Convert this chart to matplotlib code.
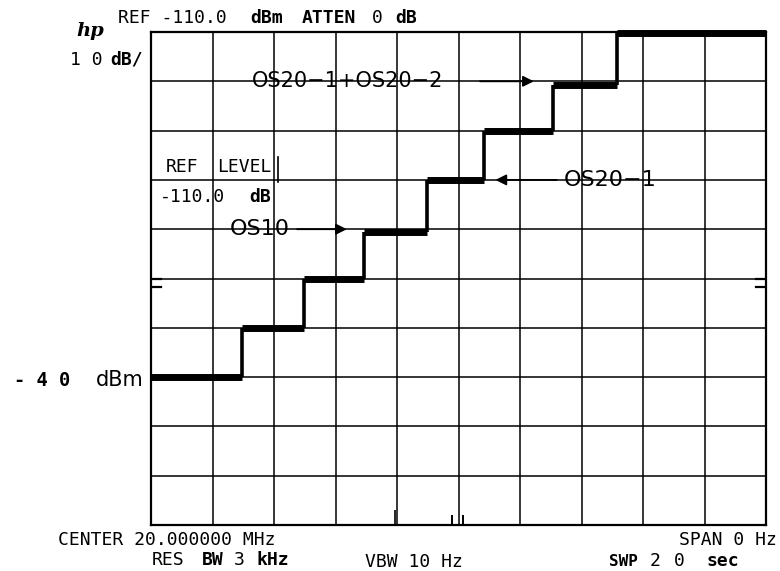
import numpy as np
import matplotlib
matplotlib.use("Agg")
import matplotlib.pyplot as plt
from matplotlib.patches import Rectangle

# sweep time (s) where each level starts, and the level (dBm) of each step
step_start = [0, 2.97, 4.98, 6.93, 8.99, 10.83, 13.07, 15.15]
step_level = [-40, -30, -20, -10.6, 0, 10, 19.2, 29.8]
sweep_end = 20

# screen layout of the analyzer plot (pixels of the 780x571 picture)
W, H = 780, 571
x0, x1, y0, y1 = 151, 766, 32, 525

plt.rcParams["font.family"] = "DejaVu Sans Mono"


def fx(px):
    return px / W


def fy(py):
    return 1 - py / H


fig = plt.figure(figsize=(7.8, 5.71), dpi=100)
ax = fig.add_axes([fx(x0), fy(y1), (x1 - x0) / W, (y1 - y0) / H])
ax.set_xlim(0, sweep_end)
ax.set_ylim(-70, 30)
ax.set_xticks(np.arange(0, 21, 2))
ax.set_yticks(np.arange(-70, 31, 10))
ax.tick_params(length=0, labelbottom=False, labelleft=False)
ax.grid(True, color="black", lw=1.1, zorder=0)
for s in ax.spines.values():
    s.set_linewidth(1.6)

# white boxes where the labels hide the graticule
for (xa, xb, ya, yb) in [(2.89, 12.5, 16.8, 23.7),   # OS20-1+OS20-2
                         (11.1, 16.94, -3.27, 4.85),  # OS20-1
                         (2.2, 6.45, -13.2, -6.9),    # OS10
                         (2.11, 4.26, 0.4, 5.45),     # REF LEVEL
                         (2.11, 4.26, -6.9, -0.6)]:
    ax.add_patch(Rectangle((xa, ya), xb - xa, yb - ya, facecolor="white",
                           edgecolor="none", zorder=1))
ax.plot([4.13, 4.13], [-0.4, 4.7], color="black", lw=1.2, zorder=2)

# trace
ends = step_start[1:] + [sweep_end]
ax.hlines(step_level, step_start, ends, color="black", lw=5, zorder=3,
          clip_on=False)
ax.vlines(step_start[1:], step_level[:-1], step_level[1:], color="black",
          lw=2.6, zorder=3)

# labels with arrows (the plotter draws a long dash)
lab = dict(fontsize=16, ha="center", va="center", zorder=4,
           family="DejaVu Sans")
arr = dict(arrowstyle="-|>", color="black", lw=1.3, mutation_scale=16,
           shrinkA=0, shrinkB=0)
ax.text(3.55, -10, "OS10", **lab)
ax.annotate("", xy=(6.37, -10), xytext=(4.75, -10), zorder=4, arrowprops=arr)
ax.text(6.4, 20, "OS20\u22121+OS20\u22122", **dict(lab, fontsize=15))
ax.annotate("", xy=(12.45, 20), xytext=(10.7, 20), zorder=4, arrowprops=arr)
ax.text(14.93, 0, "OS20\u22121", **lab)
ax.annotate("", xy=(11.2, 0), xytext=(13.2, 0), zorder=4, arrowprops=arr)

# little marks on the graticule edges
for xa, xb in [(0, 0.33), (19.67, 20)]:
    ax.plot([xa, xb], [-21.8, -21.8], color="black", lw=1.6, zorder=2)
    ax.plot([xa, xb], [-20, -20], color="black", lw=1.6, zorder=2)
ax.vlines([7.93], -70, -67, color="black", lw=1.2, zorder=2)
ax.vlines([9.79, 10.15], -70, -68, color="black", lw=1.4, zorder=2)

# screen annotations
fs = 13
fig.text(fx(76), fy(31), "hp", fontsize=14, style="italic", weight="bold",
         family="DejaVu Serif", va="center")
top = [(118, "REF -110.0", "normal"), (250, "dBm", "bold"),
       (302, "ATTEN", "bold"), (372, "0", "normal"), (395, "dB", "bold")]
for px, t, w in top:
    fig.text(fx(px), fy(18), t, fontsize=fs, weight=w, va="center")
fig.text(fx(70), fy(60), "1 0", fontsize=fs, va="center")
fig.text(fx(110), fy(60), "dB/", fontsize=fs, weight="bold", va="center")

fig.text(fx(166), fy(167), "REF", fontsize=fs, va="center")
fig.text(fx(217), fy(167), "LEVEL", fontsize=fs, va="center")
fig.text(fx(160), fy(197), "-110.0", fontsize=fs, va="center")
fig.text(fx(249), fy(197), "dB", fontsize=fs, weight="bold", va="center")

fig.text(fx(14), fy(380), "- 4 0", fontsize=13.5, weight="bold", va="center")
fig.text(fx(96), fy(380), "dBm", fontsize=15, family="DejaVu Sans",
         va="center")

fig.text(fx(58), fy(540), "CENTER 20.000000 MHz", fontsize=fs, va="center")
fig.text(fx(152), fy(560), "RES", fontsize=fs, va="center")
fig.text(fx(202), fy(560), "BW", fontsize=fs, weight="bold", va="center")
fig.text(fx(234), fy(560), "3", fontsize=fs, va="center")
fig.text(fx(256), fy(560), "kHz", fontsize=fs, weight="bold", va="center")
fig.text(fx(365), fy(562), "VBW 10 Hz", fontsize=fs, va="center")
fig.text(fx(777), fy(540), "SPAN 0 Hz", fontsize=fs, ha="right", va="center")
fig.text(fx(609), fy(561), "SWP", fontsize=11.5, weight="bold", va="center")
fig.text(fx(650), fy(561), "2", fontsize=fs, va="center")
fig.text(fx(674), fy(561), "0", fontsize=fs, va="center")
fig.text(fx(706), fy(561), "sec", fontsize=fs, weight="bold", va="center")

fig.savefig("out.png", dpi=100)
